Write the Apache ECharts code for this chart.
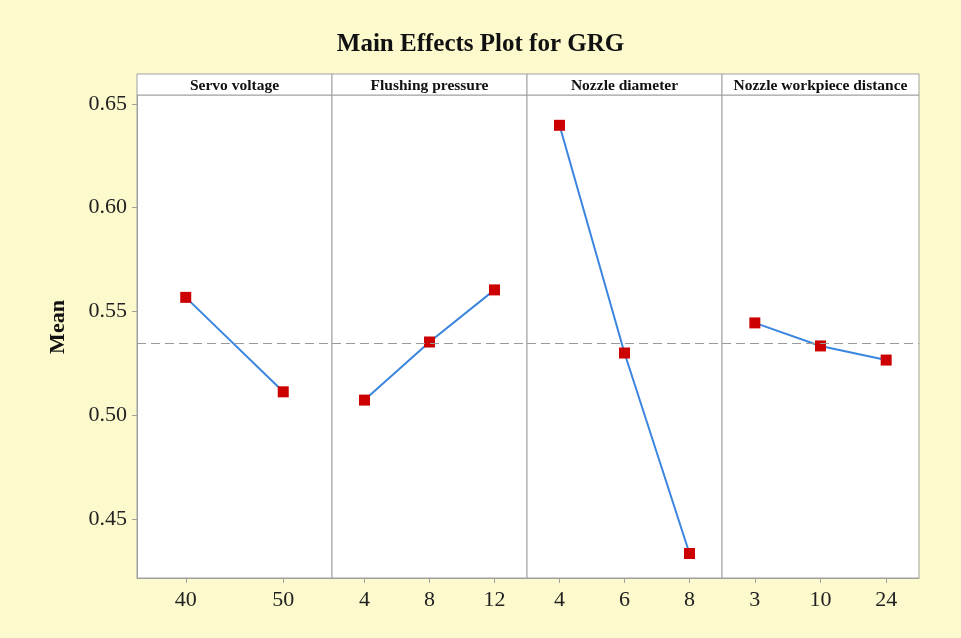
<!DOCTYPE html>
<html><head><meta charset="utf-8">
<script src="https://cdn.jsdelivr.net/npm/echarts@6/dist/echarts.min.js"></script>
<style>html,body{margin:0;padding:0;background:#FCFACD}#c{width:961px;height:638px}</style>
</head><body><div id="c"></div>
<script>
const factors = ['Servo voltage','Flushing pressure','Nozzle diameter','Nozzle workpiece distance'];
const servoLevels = ['40','50'];
const servoMeans = [0.5568, 0.5113];
const flushLevels = ['4','8','12'];
const flushMeans = [0.5073, 0.5353, 0.5604];
const nozzleLevels = ['4','6','8'];
const nozzleMeans = [0.6397, 0.5300, 0.4334];
const nwdLevels = ['3','10','24'];
const nwdMeans = [0.5445, 0.5334, 0.5266];
const overallMean = 0.5346;
const yTicks = [0.45, 0.50, 0.55, 0.60, 0.65];

const levels = [servoLevels, flushLevels, nozzleLevels, nwdLevels];
const means = [servoMeans, flushMeans, nozzleMeans, nwdMeans];

const font = '"Liberation Serif", "Times New Roman", serif';
const lefts = [137, 332, 527, 722];
const widths = [195, 195, 195, 197];
const gridTop = 95, gridHeight = 483;
const yMin = 0.4216, yMax = 0.6543;
const axisColor = '#A0A0A0';

const grid = [], xAxis = [], yAxis = [], series = [], graphic = [];
for (let i = 0; i < 4; i++) {
  grid.push({left: lefts[i], top: gridTop, width: widths[i], height: gridHeight, show: true,
    backgroundColor: '#FFFFFF', borderColor: axisColor, borderWidth: 1});
  xAxis.push({type: 'category', gridIndex: i, data: levels[i], boundaryGap: true,
    axisLine: {show: true, lineStyle: {color: axisColor}},
    axisTick: {show: true, alignWithLabel: true, length: 5, lineStyle: {color: axisColor}},
    axisLabel: {color: '#222', fontFamily: font, fontSize: 22, margin: 11},
    splitLine: {show: false}});
  yAxis.push({type: 'value', gridIndex: i, min: yMin, max: yMax,
    axisLine: {show: i === 0, lineStyle: {color: axisColor}},
    axisTick: {show: i === 0, length: 5, customValues: yTicks, lineStyle: {color: axisColor}},
    axisLabel: {show: i === 0, customValues: yTicks, color: '#222', fontFamily: font, fontSize: 22, margin: 10,
      formatter: v => v.toFixed(2)},
    splitLine: {show: false}});
  series.push({type: 'line', xAxisIndex: i, yAxisIndex: i, data: means[i],
    symbol: 'rect', symbolSize: 11, itemStyle: {color: '#CC0000'},
    lineStyle: {color: '#3A85DE', width: 2}, z: 3,
    markLine: {silent: true, symbol: 'none', precision: 4, label: {show: false},
      lineStyle: {color: '#9A9A9A', type: [9, 5], width: 1.2},
      data: [{yAxis: overallMean}]}});
  graphic.push({type: 'rect', shape: {x: lefts[i], y: 74, width: widths[i], height: 21},
    style: {fill: '#FFFFFF', stroke: axisColor, lineWidth: 1}});
  graphic.push({type: 'text', x: lefts[i] + widths[i] / 2, y: 86,
    style: {text: factors[i], fill: '#111', font: 'bold 15.5px ' + font, textAlign: 'center', textVerticalAlign: 'middle'}});
}
graphic.push({type: 'text', x: 58, y: 327, rotation: Math.PI / 2,
  style: {text: 'Mean', fill: '#111', font: 'bold 22px ' + font, textAlign: 'center', textVerticalAlign: 'middle'}});

const chart = echarts.init(document.getElementById('c'));
chart.setOption({
  backgroundColor: '#FCFACD',
  animation: false,
  title: {text: 'Main Effects Plot for GRG', left: 'center', top: 27,
    textStyle: {fontFamily: font, fontWeight: 'bold', fontSize: 25, color: '#111'}},
  grid, xAxis, yAxis, series, graphic
});
</script></body></html>
